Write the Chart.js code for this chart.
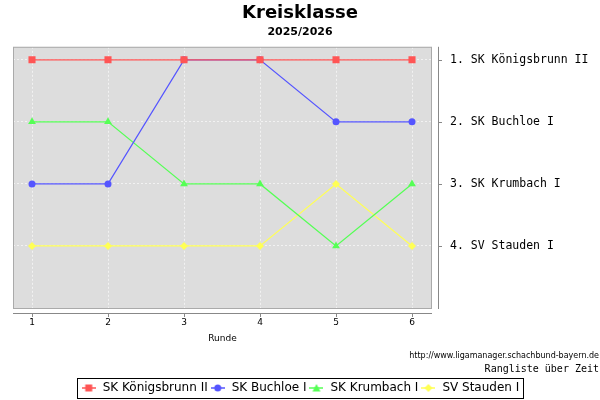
<!DOCTYPE html>
<html>
<head>
<meta charset="utf-8">
<script src="https://cdn.jsdelivr.net/npm/chart.js@4.4.1/dist/chart.umd.min.js"></script>
<style>
html, body { margin: 0; padding: 0; background: #fff; }
#wrap { width: 600px; height: 400px; }
</style>
</head>
<body>
<div id="wrap"><canvas id="rank_chart"></canvas></div>
<script>
// Runden und Platzierungen
var rounds = [1, 2, 3, 4, 5, 6];
var team_names = ['SK Königsbrunn II', 'SK Buchloe I', 'SK Krumbach I', 'SV Stauden I'];
var rank_koenigsbrunn = [1, 1, 1, 1, 1, 1];
var rank_buchloe = [3, 3, 1, 1, 2, 2];
var rank_krumbach = [2, 2, 3, 3, 4, 3];
var rank_stauden = [4, 4, 4, 4, 3, 4];
// Abschlusstabelle (rechte Achse)
var final_ranks = [1, 2, 3, 4];
var final_labels = ['1. SK Königsbrunn II', '2. SK Buchloe I', '3. SK Krumbach I', '4. SV Stauden I'];

var team_colors = ['#ff5555', '#5555ff', '#55ff55', '#ffff55'];
var team_points = ['rect', 'circle', 'triangle', 'rectRot'];
var team_radius = [5, 3.5, 4.5, 4];

function pair(values){
	return rounds.map(function(r, i){ return {x: r, y: values[i]}; });
}

// kleine Legenden-Symbole: Linie mit Marker
function legend_icon(color, style){
	var c = document.createElement('canvas');
	c.width = 14; c.height = 10;
	var g = c.getContext('2d');
	g.strokeStyle = color; g.fillStyle = color; g.lineWidth = 1.5;
	g.beginPath(); g.moveTo(0, 5); g.lineTo(14, 5); g.stroke();
	g.beginPath();
	if (style == 'rect') { g.rect(3.5, 1.5, 7, 7); }
	else if (style == 'circle') { g.arc(7, 5, 3.5, 0, Math.PI * 2); }
	else if (style == 'triangle') { g.moveTo(7, 1); g.lineTo(11, 8.5); g.lineTo(3, 8.5); g.closePath(); }
	else { g.moveTo(7, 1); g.lineTo(11, 5); g.lineTo(7, 9); g.lineTo(3, 5); g.closePath(); }
	g.fill();
	return c;
}

var all_ranks = [rank_koenigsbrunn, rank_buchloe, rank_krumbach, rank_stauden];
var datasets = all_ranks.map(function(vals, i){
	return {
		label: team_names[i],
		data: pair(vals),
		xAxisID: 'x',
		yAxisID: 'y',
		borderColor: team_colors[i],
		backgroundColor: team_colors[i],
		borderWidth: 1.2,
		pointStyle: team_points[i],
		pointRadius: team_radius[i],
		pointHoverRadius: team_radius[i],
		pointBorderWidth: 0,
		tension: 0
	};
});

var mono = 'DejaVu Sans Mono';
var sans = 'DejaVu Sans';
var pad_bottom = -4;

var plot_deco = {
	id: 'plot_deco',
	beforeDraw: function(chart){
		var a = chart.chartArea, ctx = chart.ctx;
		ctx.save();
		ctx.fillStyle = '#dddddd';
		ctx.fillRect(a.left, a.top, a.right - a.left, a.bottom - a.top);
		ctx.restore();
	},
	afterDraw: function(chart){
		var a = chart.chartArea, ctx = chart.ctx;
		var xs = chart.scales.x, ys = chart.scales.y;
		ctx.save();
		ctx.strokeStyle = '#aaaaaa';
		ctx.lineWidth = 1;
		ctx.strokeRect(a.left + 0.5, a.top + 0.5, a.right - a.left - 1, a.bottom - a.top - 1);
		// untere Achse
		ctx.strokeStyle = '#888888';
		ctx.beginPath();
		ctx.moveTo(a.left, a.bottom + 4.5); ctx.lineTo(a.right, a.bottom + 4.5);
		xs.ticks.forEach(function(t){
			var px = Math.round(xs.getPixelForValue(t.value)) + 0.5;
			ctx.moveTo(px, a.bottom + 4); ctx.lineTo(px, a.bottom + 8);
		});
		// rechte Achse
		ctx.moveTo(a.right + 6.5, a.top); ctx.lineTo(a.right + 6.5, a.bottom);
		ys.ticks.forEach(function(t){
			var py = Math.round(ys.getPixelForValue(t.value)) + 0.5;
			ctx.moveTo(a.right + 6, py); ctx.lineTo(a.right + 10, py);
		});
		ctx.stroke();
		// Quelle
		ctx.fillStyle = '#000';
		ctx.textAlign = 'right';
		ctx.textBaseline = 'middle';
		ctx.font = '8px ' + sans;
		ctx.fillText('http://www.ligamanager.schachbund-bayern.de', 599, 356);
		ctx.font = '10px ' + mono;
		ctx.fillText('Rangliste über Zeit', 599, 369);
		// Rahmen der Legende
		var hb = chart.legend.legendHitBoxes;
		if (hb && hb.length) {
			var l = Infinity, r = -Infinity, cy = hb[0].top + hb[0].height / 2;
			hb.forEach(function(b){ l = Math.min(l, b.left); r = Math.max(r, b.left + b.width); });
			ctx.strokeStyle = '#000';
			ctx.strokeRect(Math.round(l) - 3.5, Math.round(cy) - 9.5, Math.round(r - l) + 7, 20);
		}
		ctx.restore();
	}
};

var ctx = document.getElementById('rank_chart');
var chart = new Chart(ctx, {
	type: 'line',
	data: { datasets: datasets },
	plugins: [plot_deco],
	options: {
		responsive: true,
		maintainAspectRatio: false,
		animation: false,
		layout: { padding: { left: 0, right: 0, top: 0, bottom: pad_bottom } },
		plugins: {
			title: {
				display: true,
				text: 'Kreisklasse',
				color: '#000',
				font: { family: sans, size: 18, weight: 'bold' },
				padding: { top: 3, bottom: 0 }
			},
			subtitle: {
				display: true,
				text: '2025/2026',
				color: '#000',
				font: { family: sans, size: 11, weight: 'bold' },
				padding: { top: 1, bottom: 8 }
			},
			legend: {
				display: true,
				position: 'bottom',
				onClick: null,
				labels: {
					color: '#000',
					font: { family: sans, size: 12 },
					usePointStyle: true,
					pointStyleWidth: 16,
					padding: 2,
					generateLabels: function(ch){
						return ch.data.datasets.map(function(ds, i){
							return {
								text: ds.label,
								pointStyle: legend_icon(team_colors[i], team_points[i]),
								fillStyle: team_colors[i],
								strokeStyle: team_colors[i],
								lineWidth: 0,
								hidden: false,
								datasetIndex: i
							};
						});
					}
				}
			},
			tooltip: { enabled: false }
		},
		scales: {
			x: {
				type: 'linear',
				min: 0.75,
				max: 6.263,
				afterBuildTicks: function(s){ s.ticks = rounds.map(function(r){ return {value: r}; }); },
				afterFit: function(s){
					var lh = (s.chart.legend && s.chart.legend.height) ? s.chart.legend.height : 25;
					s.height = s.chart.height - pad_bottom - lh - 309;
				},
				border: { display: false, dash: [2, 2] },
				grid: {
					color: '#f2f2f2',
					lineWidth: 1,
					drawTicks: false
				},
				ticks: {
					color: '#000',
					font: { family: sans, size: 9 },
					padding: 8,
					maxRotation: 0,
					callback: function(v){ return String(v); }
				},
				title: {
					display: true,
					text: 'Runde',
					color: '#000',
					font: { family: sans, size: 9 },
					padding: { top: 0, bottom: 36 }
				}
			},
			yl: {
				type: 'linear',
				position: 'left',
				display: true,
				afterFit: function(s){ s.width = 13; },
				border: { display: false },
				grid: { display: false },
				ticks: { display: false }
			},
			y: {
				type: 'linear',
				position: 'right',
				reverse: true,
				min: 0.79,
				max: 5.016,
				afterBuildTicks: function(s){ s.ticks = final_ranks.map(function(r){ return {value: r}; }); },
				afterFit: function(s){ s.width = 168; },
				border: { display: false, dash: [2, 2] },
				grid: {
					color: '#f2f2f2',
					lineWidth: 1,
					drawTicks: false
				},
				ticks: {
					color: '#000',
					font: { family: mono, size: 11.5 },
					padding: 18,
					callback: function(v){ return final_labels[final_ranks.indexOf(v)]; }
				}
			}
		}
	}
});
</script>
</body>
</html>
